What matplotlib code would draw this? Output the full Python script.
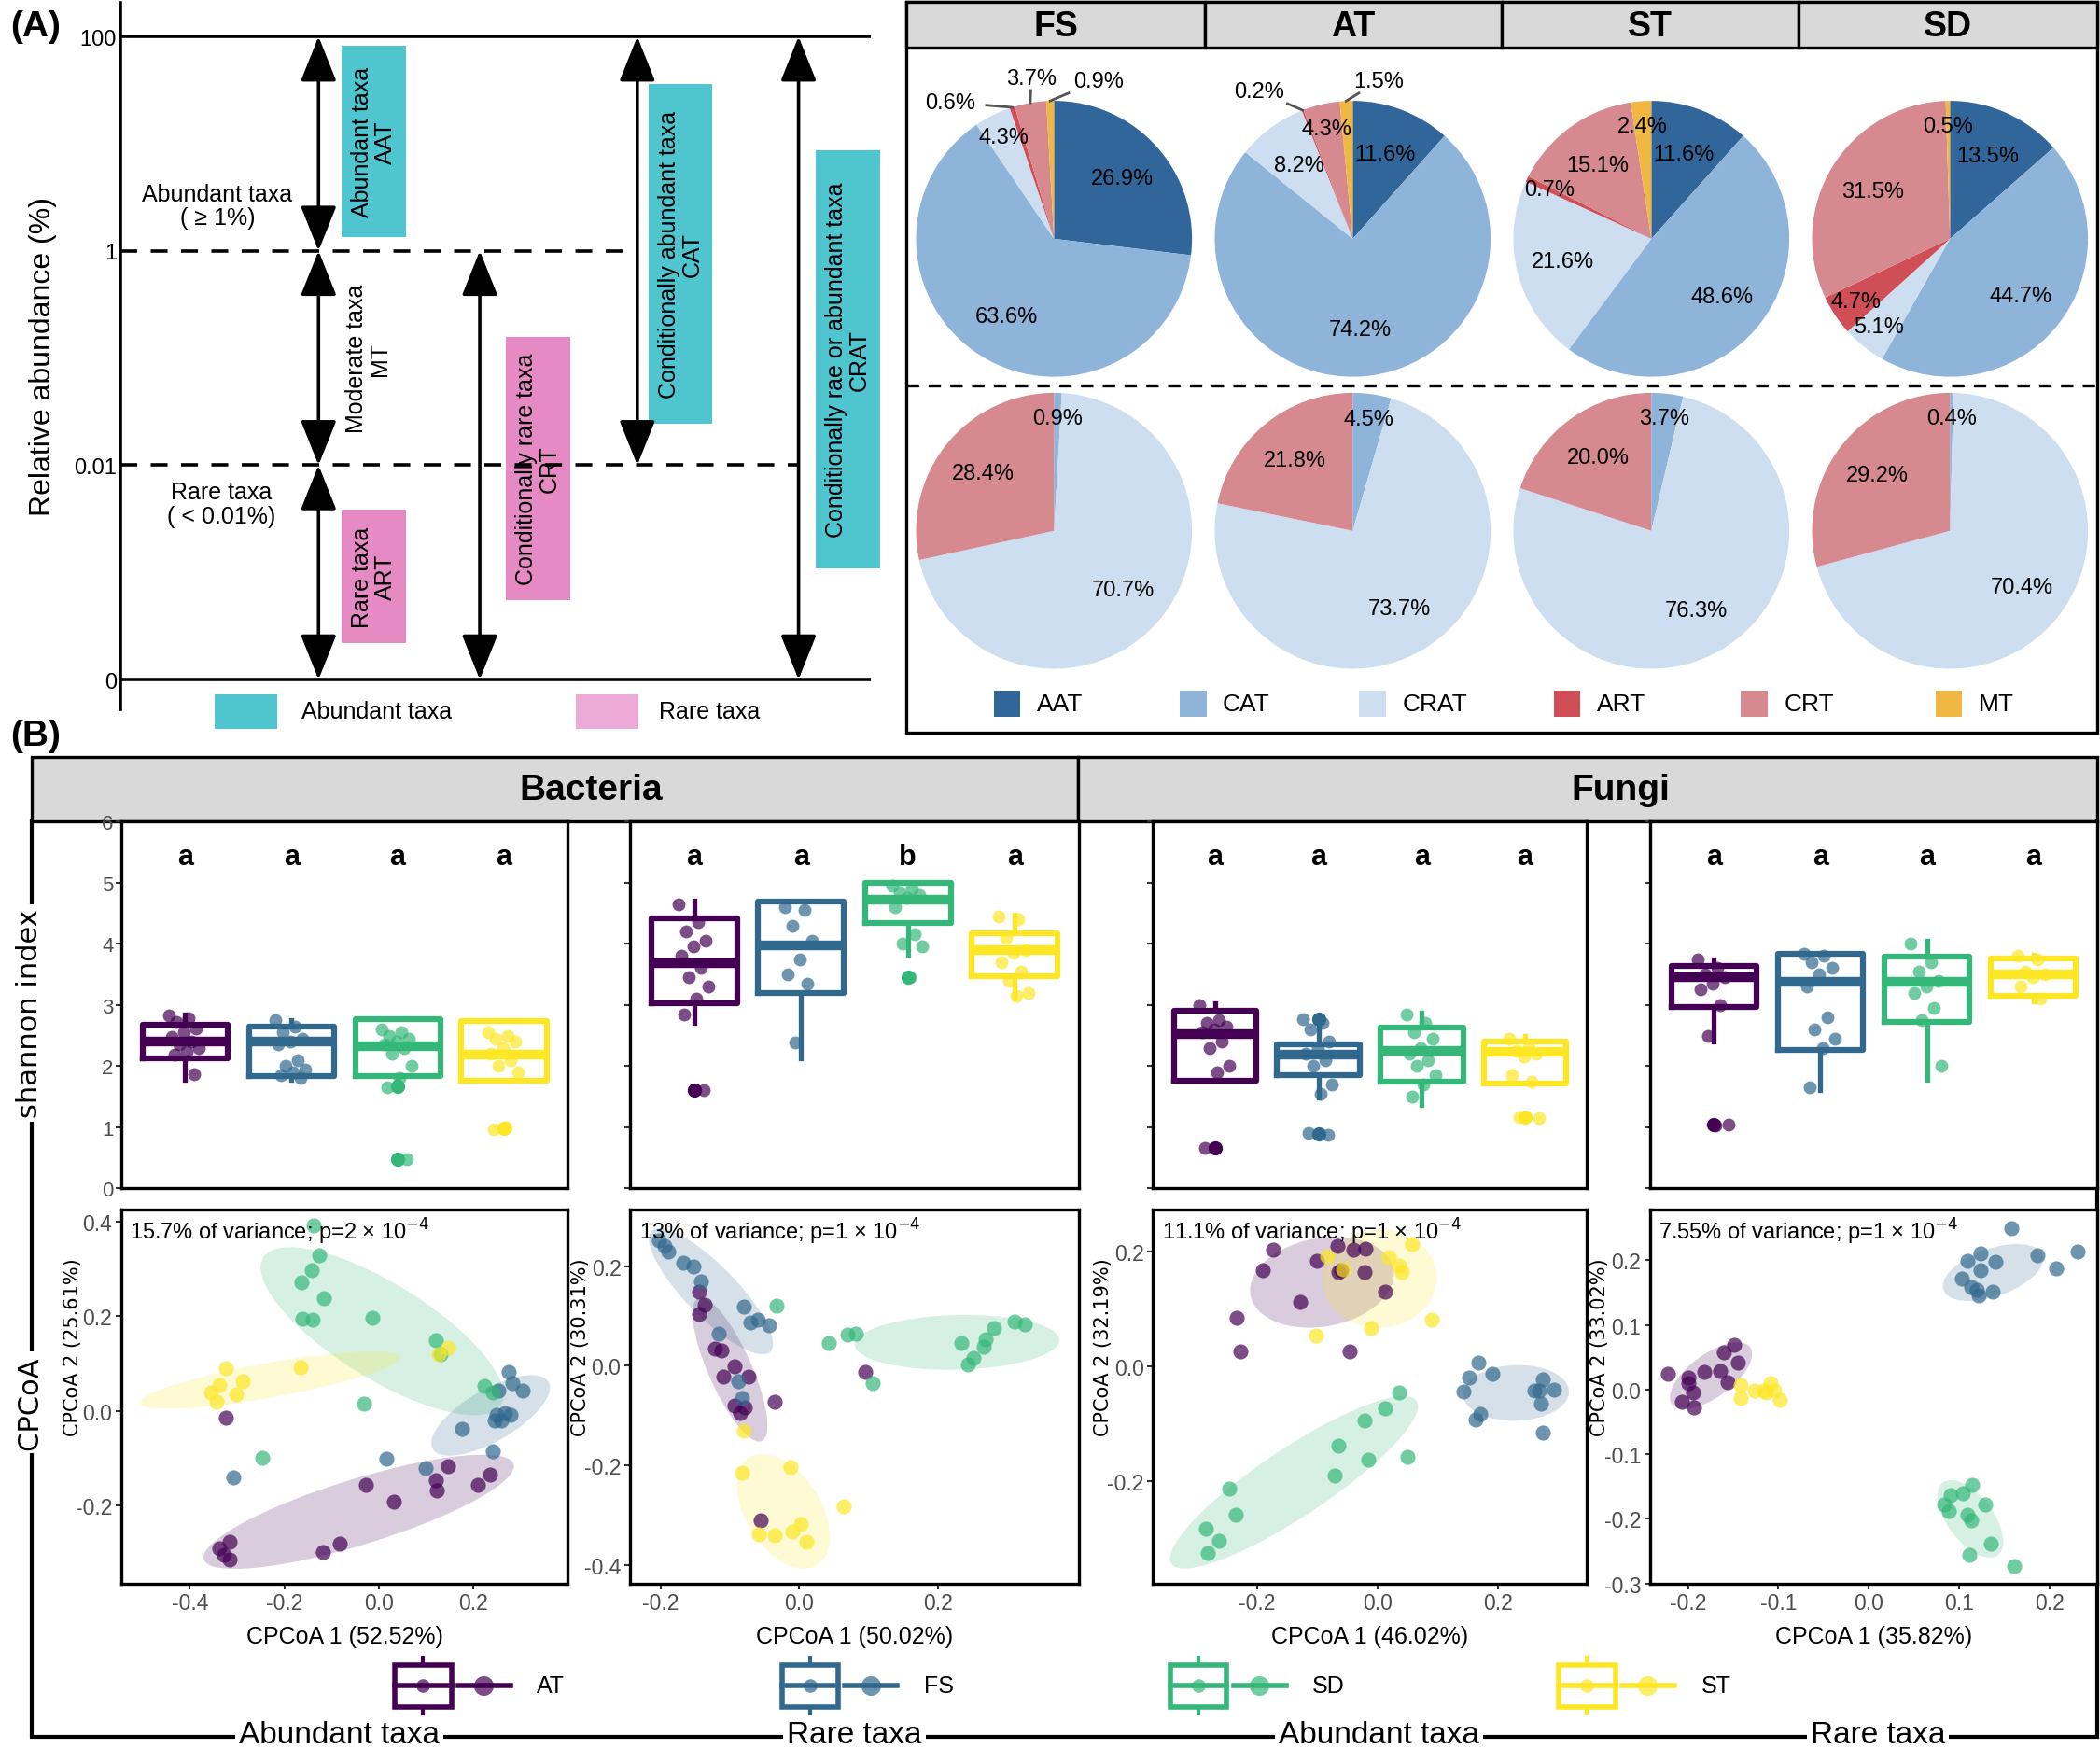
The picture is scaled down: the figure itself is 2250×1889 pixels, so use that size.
import numpy as np
import matplotlib
matplotlib.use('Agg')
import matplotlib.pyplot as plt
from matplotlib.patches import Rectangle, Ellipse
from matplotlib.ticker import FormatStrFormatter

matplotlib.rc('font', family='Liberation Sans', size=16)

# layout grid of the reference (the figure is saved at 2250 x 1890 px)
W, H = 1568.0, 1317.0

# ---------------------------------------------------------------- data (A)
level_labels = ['0', '0.01', '1', '100']
pie_sites = ['FS', 'AT', 'ST', 'SD']
top_classes = ['AAT', 'CAT', 'CRAT', 'ART', 'CRT', 'MT']
top_pct = {'FS': [26.9, 63.6, 4.3, 0.6, 3.7, 0.9],
           'AT': [11.6, 74.2, 8.2, 0.2, 4.3, 1.5],
           'ST': [11.6, 48.6, 21.6, 0.7, 15.1, 2.4],
           'SD': [13.5, 44.7, 5.1, 4.7, 31.5, 0.5]}
bottom_classes = ['CAT', 'CRAT', 'CRT']
bottom_pct = {'FS': [0.9, 70.7, 28.4],
              'AT': [4.5, 73.7, 21.8],
              'ST': [3.7, 76.3, 20.0],
              'SD': [0.4, 70.4, 29.2]}
class_colors = {'AAT': '#31669A', 'CAT': '#8FB4DA', 'CRAT': '#CCDEEF',
                'ART': '#D04E55', 'CRT': '#D68A8F', 'MT': '#F0B843'}

# ---------------------------------------------------------------- data (B)
groups = ['AT', 'FS', 'SD', 'ST']
group_colors = ['#440154', '#31688E', '#35B779', '#FDE725']

# shannon index: jittered samples, box stats (lo, q1, med, q3, hi), outliers
sh_bac_ab = {'AT': [2.83, 2.78, 2.72, 2.62, 2.55, 2.47, 2.40, 2.36, 2.30, 2.24, 2.18, 1.86],
             'FS': [2.75, 2.65, 2.55, 2.45, 2.40, 2.35, 2.10, 2.00, 1.95, 1.90, 1.85, 1.80],
             'SD': [2.60, 2.55, 2.50, 2.45, 2.40, 2.35, 2.30, 2.20, 2.00, 1.80, 1.65, 0.48],
             'ST': [2.55, 2.50, 2.45, 2.40, 2.30, 2.20, 2.10, 2.00, 1.90, 1.00, 0.97]}
bx_bac_ab = {'AT': (1.78, 2.13, 2.40, 2.67, 2.85), 'FS': (1.78, 1.84, 2.40, 2.65, 2.75),
             'SD': (1.80, 1.84, 2.32, 2.76, 2.76), 'ST': (1.76, 1.76, 2.18, 2.73, 2.73)}
out_bac_ab = {'AT': [], 'FS': [], 'SD': [1.67, 0.48], 'ST': [0.98]}

sh_bac_ra = {'AT': [4.65, 4.35, 4.20, 4.05, 3.95, 3.80, 3.60, 3.45, 3.30, 3.10, 2.85, 1.60],
             'FS': [4.60, 4.55, 4.30, 4.05, 3.75, 3.50, 3.35, 2.38],
             'SD': [4.95, 4.90, 4.85, 4.80, 4.75, 4.60, 4.15, 4.00, 3.95, 3.45],
             'ST': [4.45, 4.40, 4.10, 3.90, 3.85, 3.70, 3.55, 3.40, 3.20, 3.15]}
bx_bac_ra = {'AT': (2.71, 3.03, 3.69, 4.42, 4.71), 'FS': (2.13, 3.20, 3.98, 4.69, 4.69),
             'SD': (3.82, 4.34, 4.72, 5.00, 5.00), 'ST': (3.11, 3.47, 3.89, 4.17, 4.47)}
out_bac_ra = {'AT': [1.60], 'FS': [], 'SD': [3.45], 'ST': []}

sh_fun_ab = {'AT': [3.00, 2.75, 2.70, 2.65, 2.60, 2.55, 2.40, 2.30, 2.00, 1.90, 0.66],
             'FS': [2.77, 2.70, 2.60, 2.40, 2.30, 2.20, 2.10, 2.00, 1.70, 1.55, 0.90, 0.88],
             'SD': [2.85, 2.70, 2.55, 2.45, 2.30, 2.20, 2.10, 2.00, 1.85, 1.70, 1.50],
             'ST': [2.45, 2.30, 2.25, 2.20, 2.15, 1.85, 1.75, 1.17, 1.15]}
bx_fun_ab = {'AT': (1.76, 1.76, 2.52, 2.91, 3.03), 'FS': (1.48, 1.85, 2.18, 2.36, 2.72),
             'SD': (1.37, 1.74, 2.25, 2.63, 2.88), 'ST': (1.72, 1.72, 2.23, 2.40, 2.50)}
out_fun_ab = {'AT': [0.66], 'FS': [2.77, 0.89], 'SD': [], 'ST': [1.16]}

sh_fun_ra = {'AT': [3.75, 3.60, 3.50, 3.45, 3.35, 3.25, 3.00, 2.50, 1.05, 1.03],
             'FS': [3.83, 3.80, 3.70, 3.60, 3.50, 3.30, 2.80, 2.60, 2.45, 2.30, 1.65],
             'SD': [4.00, 3.70, 3.55, 3.40, 3.30, 3.20, 2.95, 2.75, 2.00],
             'ST': [3.80, 3.75, 3.55, 3.50, 3.45, 3.30, 3.10]}
bx_fun_ra = {'AT': (2.40, 2.97, 3.46, 3.63, 3.74), 'FS': (1.61, 2.26, 3.37, 3.83, 3.83),
             'SD': (1.77, 2.72, 3.37, 3.79, 4.05), 'ST': (3.06, 3.15, 3.50, 3.76, 3.82)}
out_fun_ra = {'AT': [1.04], 'FS': [], 'SD': [], 'ST': []}

letters = [['a', 'a', 'a', 'a'], ['a', 'a', 'b', 'a'], ['a', 'a', 'a', 'a'], ['a', 'a', 'a', 'a']]

# CPCoA scores
pc_bac_ab_x = {'AT': [-0.323, -0.028, 0.032, 0.121, 0.123, 0.147, 0.210, 0.235, -0.118, -0.083, -0.315, -0.337, -0.327, -0.315],
               'FS': [0.274, 0.283, 0.304, 0.253, 0.267, 0.250, 0.279, 0.245, 0.258, 0.177, 0.241, 0.016, 0.099, -0.308],
               'SD': [-0.137, -0.127, -0.142, -0.164, -0.117, -0.161, -0.140, -0.013, 0.120, 0.130, -0.032, -0.247, 0.223, 0.242],
               'ST': [-0.324, -0.166, -0.288, -0.337, -0.355, -0.301, -0.343, 0.147, 0.127]}
pc_bac_ab_y = {'AT': [-0.013, -0.155, -0.191, -0.146, -0.168, -0.117, -0.155, -0.134, -0.298, -0.280, -0.276, -0.290, -0.304, -0.314],
               'FS': [0.082, 0.059, 0.043, 0.043, -0.003, -0.007, -0.007, -0.019, -0.019, -0.038, -0.084, -0.101, -0.120, -0.140],
               'SD': [0.392, 0.329, 0.298, 0.271, 0.238, 0.196, 0.194, 0.198, 0.149, 0.120, 0.015, -0.099, 0.053, 0.039],
               'ST': [0.091, 0.093, 0.063, 0.055, 0.039, 0.036, 0.019, 0.134, 0.120]}
pc_bac_ra_x = {'AT': [-0.144, -0.137, -0.144, -0.122, -0.112, -0.093, -0.109, -0.073, -0.093, -0.078, -0.086, -0.036, 0.095, -0.056],
               'FS': [-0.202, -0.189, -0.167, -0.152, -0.142, -0.117, -0.080, -0.060, -0.070, -0.043, -0.088, -0.083, -0.195],
               'SD': [-0.033, 0.042, 0.070, 0.082, 0.106, 0.234, 0.243, 0.251, 0.266, 0.269, 0.281, 0.310, 0.325],
               'ST': [-0.080, -0.083, -0.013, 0.064, -0.058, -0.036, -0.010, 0.002, 0.010]}
pc_bac_ra_y = {'AT': [0.148, 0.122, 0.104, 0.034, 0.031, -0.002, -0.021, -0.021, -0.079, -0.083, -0.094, -0.072, -0.013, -0.311],
               'FS': [0.251, 0.229, 0.207, 0.199, 0.170, 0.064, 0.119, 0.093, 0.086, 0.082, -0.032, -0.064, 0.240],
               'SD': [0.120, 0.045, 0.062, 0.065, -0.035, 0.045, 0.003, 0.016, 0.038, 0.053, 0.076, 0.089, 0.084],
               'ST': [-0.130, -0.215, -0.204, -0.283, -0.339, -0.341, -0.332, -0.317, -0.354]}
pc_fun_ab_x = {'AT': [-0.174, -0.190, -0.101, -0.067, -0.040, -0.020, -0.065, -0.060, -0.022, 0.013, -0.129, -0.234, -0.228, -0.047],
               'FS': [0.168, 0.191, 0.152, 0.142, 0.274, 0.268, 0.261, 0.293, 0.272, 0.171, 0.163, 0.275],
               'SD': [0.036, 0.013, -0.022, -0.065, -0.016, 0.049, -0.071, -0.247, -0.236, -0.286, -0.264, -0.283],
               'ST': [0.057, -0.084, 0.018, 0.036, 0.041, -0.057, -0.011, -0.103, 0.090]}
pc_fun_ab_y = {'AT': [0.202, 0.167, 0.183, 0.210, 0.203, 0.205, 0.164, 0.167, 0.164, 0.130, 0.112, 0.084, 0.026, 0.025],
               'FS': [0.007, -0.014, -0.019, -0.044, -0.023, -0.043, -0.043, -0.041, -0.065, -0.083, -0.093, -0.116],
               'SD': [-0.046, -0.074, -0.095, -0.138, -0.163, -0.157, -0.190, -0.213, -0.258, -0.283, -0.303, -0.325],
               'ST': [0.213, 0.191, 0.189, 0.175, 0.164, 0.169, 0.067, 0.053, 0.081]}
pc_fun_ra_x = {'AT': [-0.149, -0.160, -0.145, -0.164, -0.182, -0.156, -0.222, -0.199, -0.200, -0.194, -0.207, -0.193],
               'FS': [0.158, 0.124, 0.109, 0.140, 0.187, 0.231, 0.207, 0.124, 0.103, 0.113, 0.120, 0.137, 0.122],
               'SD': [0.114, 0.091, 0.104, 0.084, 0.089, 0.109, 0.113, 0.129, 0.135, 0.111, 0.161],
               'ST': [-0.142, -0.142, -0.126, -0.116, -0.109, -0.104, -0.098, -0.114]}
pc_fun_ra_y = {'AT': [0.069, 0.058, 0.041, 0.029, 0.027, 0.012, 0.024, 0.018, 0.010, -0.005, -0.019, -0.027],
               'FS': [0.250, 0.210, 0.199, 0.197, 0.207, 0.214, 0.188, 0.185, 0.171, 0.159, 0.154, 0.151, 0.145],
               'SD': [-0.147, -0.163, -0.160, -0.178, -0.188, -0.194, -0.202, -0.178, -0.239, -0.256, -0.273],
               'ST': [0.007, -0.013, -0.001, -0.002, 0.010, -0.002, -0.016, -0.005]}

# confidence ellipses: (xmin, xmax, ymin, ymax, x of top point)
el_bac_ab = {'AT': (-0.371, 0.286, -0.333, -0.092, 0.220), 'FS': (0.111, 0.362, -0.094, 0.076, 0.323),
             'SD': (-0.250, 0.264, -0.0085, 0.346, -0.188), 'ST': (-0.505, 0.045, 0.005, 0.126, -0.013)}
el_bac_ra = {'AT': (-0.154, -0.046, -0.152, 0.137, -0.142), 'FS': (-0.217, -0.038, 0.023, 0.276, -0.202),
             'SD': (0.080, 0.375, -0.008, 0.102, 0.240), 'ST': (-0.090, 0.044, -0.407, -0.177, -0.053)}
el_fun_ab = {'AT': (-0.212, 0.027, 0.067, 0.225, -0.071), 'FS': (0.142, 0.318, -0.095, 0.002, 0.234),
             'SD': (-0.345, 0.067, -0.352, -0.052, 0.043), 'ST': (-0.092, 0.098, 0.067, 0.238, 0.005)}
el_fun_ra = {'AT': (-0.220, -0.129, -0.030, 0.073, -0.145), 'FS': (0.082, 0.193, 0.137, 0.225, 0.164),
             'SD': (0.076, 0.149, -0.260, -0.140, 0.091), 'ST': None}

pc_xlabels = ['CPCoA 1 (52.52%)', 'CPCoA 1 (50.02%)', 'CPCoA 1 (46.02%)', 'CPCoA 1 (35.82%)']
pc_ylabels = ['CPCoA 2 (25.61%)', 'CPCoA 2 (30.31%)', 'CPCoA 2 (32.19%)', 'CPCoA 2 (33.02%)']
pc_notes = ['15.7% of variance; p=2 × 10$^{-4}$', '13% of variance; p=1 × 10$^{-4}$',
            '11.1% of variance; p=1 × 10$^{-4}$', '7.55% of variance; p=1 × 10$^{-4}$']


def rect(x1, y1, x2, y2):
    return [x1 / W, 1 - y2 / H, (x2 - x1) / W, (y2 - y1) / H]


def ellipse_from_box(xmin, xmax, ymin, ymax, xtop):
    cx, cy = (xmin + xmax) / 2, (ymin + ymax) / 2
    X, Y = (xmax - xmin) / 2, (ymax - ymin) / 2
    K = 2 * (xtop - cx) * Y
    L = X ** 2 - Y ** 2
    S = X ** 2 + Y ** 2
    D = np.hypot(K, L)
    a = np.sqrt((S + D) / 2)
    b = np.sqrt(max((S - D) / 2, 0))
    return Ellipse((cx, cy), 2 * a, 2 * b, angle=0.5 * np.degrees(np.arctan2(K, L)))


fig = plt.figure(figsize=(22.5, 18.9), dpi=100)

# overlay in reference units for frames, strips and free text
ov = fig.add_axes([0, 0, 1, 1])
ov.set_xlim(0, W)
ov.set_ylim(H, 0)
ov.axis('off')
LW = 2.4

ov.text(8, 20, '(A)', fontsize=28, fontweight='bold', va='center')
ov.text(8, 550, '(B)', fontsize=28, fontweight='bold', va='center')

# ---------------------------------------------------------------- (A) left diagram
axA = fig.add_axes(rect(90, 3, 650, 530))
axA.set_xlim(0, 1)
axA.set_ylim(-0.1375, 3.156)
for s in ['top', 'right', 'bottom']:
    axA.spines[s].set_visible(False)
axA.spines['left'].set_linewidth(2.6)
axA.set_xticks([])
axA.set_yticks(range(4))
axA.set_yticklabels(level_labels, fontsize=17)
axA.tick_params(axis='y', length=0, pad=3)
axA.set_ylabel('Relative abundance (%)', fontsize=23)
axA.yaxis.set_label_coords(-0.085, 0.5)

axA.hlines([0, 3], 0, 1, color='black', lw=2.6)
axA.hlines(2, 0, 0.689, color='black', lw=2.6, linestyles=(0, (5, 4)))
axA.hlines(1, 0, 0.904, color='black', lw=2.6, linestyles=(0, (5, 4)))

arrows = [(0.264, 3, 2), (0.264, 2, 1), (0.264, 1, 0), (0.479, 2, 0), (0.689, 3, 1), (0.904, 3, 0)]
for x, y0, y1 in arrows:
    axA.annotate('', xy=(x, y1), xytext=(x, y0),
                 arrowprops=dict(arrowstyle='<|-|>,head_length=1.25,head_width=0.5', color='black',
                                 lw=2.6, shrinkA=0, shrinkB=0, mutation_scale=24))

cyan, pink = '#4FC5D0', '#E68AC4'
class_boxes = [('Abundant taxa\nAAT', 0.295, 0.380, 2.0625, 2.956, cyan),
               ('Rare taxa\nART', 0.295, 0.380, 0.169, 0.794, pink),
               ('Conditionally rare taxa\nCRT', 0.514, 0.600, 0.369, 1.600, pink),
               ('Conditionally abundant taxa\nCAT', 0.704, 0.789, 1.194, 2.780, cyan),
               ('Conditionally rae or abundant taxa\nCRAT', 0.927, 1.0125, 0.519, 2.469, cyan)]
for txt, x0, x1, y0, y1, c in class_boxes:
    axA.add_patch(Rectangle((x0, y0), x1 - x0, y1 - y0, facecolor=c, edgecolor='none', clip_on=False))
    axA.text((x0 + x1) / 2, (y0 + y1) / 2, txt, rotation=90, ha='center', va='center',
             fontsize=18, multialignment='center', linespacing=1.05)
axA.text(0.330, 1.5, 'Moderate taxa\nMT', rotation=90, ha='center', va='center', fontsize=18,
         multialignment='center', linespacing=1.05)
axA.text(0.129, 2.21, 'Abundant taxa\n( ≥ 1%)', ha='center', va='center', fontsize=18, linespacing=1.1)
axA.text(0.134, 0.82, 'Rare taxa\n( < 0.01%)', ha='center', va='center', fontsize=18, linespacing=1.1)

axA.add_patch(Rectangle((0.125, -0.231), 0.084, 0.162, facecolor=cyan, edgecolor='none', clip_on=False))
axA.text(0.241, -0.15, 'Abundant taxa', va='center', fontsize=18)
axA.add_patch(Rectangle((0.607, -0.231), 0.084, 0.162, facecolor='#EEAAD6', edgecolor='none', clip_on=False))
axA.text(0.718, -0.15, 'Rare taxa', va='center', fontsize=18)

# ---------------------------------------------------------------- (A) right pies
ov.add_patch(Rectangle((677, 2), 889, 546, facecolor='none', edgecolor='black', lw=LW))
strip_x = [677, 900, 1121, 1343, 1566]
for i, site in enumerate(pie_sites):
    ov.add_patch(Rectangle((strip_x[i], 2), strip_x[i + 1] - strip_x[i], 34, facecolor='#D9D9D9',
                           edgecolor='black', lw=LW))
    ov.text((strip_x[i] + strip_x[i + 1]) / 2, 20, site, ha='center', va='center', fontsize=27,
            fontweight='bold')
ov.plot([677, 1566], [288.5, 288.5], color='black', lw=LW, ls=(0, (4, 3)))

# small top-row slices labelled outside the pie (label centre in pie radii)
outside = {('FS', 'ART'): (-0.75, 0.99), ('FS', 'CRT'): (-0.165, 1.165), ('FS', 'MT'): (0.32, 1.146),
           ('AT', 'ART'): (-0.68, 1.07), ('AT', 'MT'): (0.19, 1.146)}
pie_cx = [787, 1010, 1233, 1456]
R = 103


def draw_pie(cx, cy, site, classes, values, labels_out):
    ax = fig.add_axes(rect(cx - R, cy - R, cx + R, cy + R))
    wedges, _ = ax.pie(values, colors=[class_colors[c] for c in classes], startangle=90,
                       counterclock=False, radius=1, wedgeprops=dict(linewidth=0))
    ax.set_xlim(-1, 1)
    ax.set_ylim(-1, 1)
    for w, c, v in zip(wedges, classes, values):
        m = np.radians((w.theta1 + w.theta2) / 2)
        ex, ey = np.cos(m), np.sin(m)
        lab = '%.1f%%' % v
        if (site, c) in labels_out:
            lx, ly = labels_out[(site, c)]
            vx, vy = ex - lx, ey - ly
            s = min(0.26 / abs(vx) if vx else 9, 0.09 / abs(vy) if vy else 9)
            ax.plot([lx + vx * s, ex], [ly + vy * s, ey], color='#555555', lw=2, clip_on=False)
            ax.text(lx, ly, lab, ha='center', va='center', fontsize=17)
        else:
            r = 0.82 if v < 6 else 0.66
            ax.text(r * ex, r * ey, lab, ha='center', va='center', fontsize=17)


for i, site in enumerate(pie_sites):
    draw_pie(pie_cx[i], 179, site, top_classes, top_pct[site], outside)
    draw_pie(pie_cx[i], 397, site, bottom_classes, bottom_pct[site], {})

pie_leg_x = [742, 881, 1015, 1160, 1300, 1445]
for x, c in zip(pie_leg_x, top_classes):
    ov.add_patch(Rectangle((x, 516), 20, 20, facecolor=class_colors[c], edgecolor='none'))
    ov.text(x + 32, 526, c, va='center', fontsize=19)

# ---------------------------------------------------------------- (B) frame
ov.add_patch(Rectangle((24, 566), 781, 48, facecolor='#D9D9D9', edgecolor='black', lw=LW))
ov.add_patch(Rectangle((805, 566), 761, 48, facecolor='#D9D9D9', edgecolor='black', lw=LW))
ov.text(441, 590, 'Bacteria', ha='center', va='center', fontsize=28, fontweight='bold')
ov.text(1210, 590, 'Fungi', ha='center', va='center', fontsize=28, fontweight='bold')
ov.plot([24, 24, 1566, 1566], [614, 1297.5, 1297.5, 614], color='black', lw=LW + 0.6,
        solid_joinstyle='miter')
white = dict(facecolor='white', edgecolor='none', pad=3)
ov.text(22, 757, 'shannon index', rotation=90, ha='center', va='center', fontsize=22,
        family='DejaVu Sans', bbox=white)
ov.text(22, 1048, 'CPCoA', rotation=90, ha='center', va='center', fontsize=22,
        family='DejaVu Sans', bbox=white)
for x, t in zip([253, 638, 1030, 1402], ['Abundant taxa', 'Rare taxa', 'Abundant taxa', 'Rare taxa']):
    ov.text(x, 1296, t, ha='center', va='center', fontsize=24, bbox=white)

panel_x = [(90.5, 424), (470.5, 805.5), (861, 1185), (1232, 1566)]
shannon = [sh_bac_ab, sh_bac_ra, sh_fun_ab, sh_fun_ra]
boxstats = [bx_bac_ab, bx_bac_ra, bx_fun_ab, bx_fun_ra]
outliers = [out_bac_ab, out_bac_ra, out_fun_ab, out_fun_ra]
pcx = [pc_bac_ab_x, pc_bac_ra_x, pc_fun_ab_x, pc_fun_ra_x]
pcy = [pc_bac_ab_y, pc_bac_ra_y, pc_fun_ab_y, pc_fun_ra_y]
ells = [el_bac_ab, el_bac_ra, el_fun_ab, el_fun_ra]
pc_xlim = [(-0.545, 0.40), (-0.244, 0.403), (-0.373, 0.348), (-0.242, 0.253)]
pc_ylim = [(-0.364, 0.425), (-0.437, 0.313), (-0.378, 0.272), (-0.300, 0.278)]
pc_xticks = [[-0.4, -0.2, 0, 0.2], [-0.2, 0, 0.2], [-0.2, 0, 0.2], [-0.2, -0.1, 0, 0.1, 0.2]]
pc_yticks = [[-0.2, 0, 0.2, 0.4], [-0.4, -0.2, 0, 0.2], [-0.2, 0, 0.2], [-0.3, -0.2, -0.1, 0, 0.1, 0.2]]
ylab_pos = [61, 440.5, 831, 1201.5]

for k, (x1, x2) in enumerate(panel_x):
    # shannon boxplots
    ax = fig.add_axes(rect(x1, 614, x2, 888))
    ax.set_xlim(0.4, 4.6)
    ax.set_ylim(0, 6)
    for i, g in enumerate(groups):
        c = group_colors[i]
        lo, q1, med, q3, hi = boxstats[k][g]
        ax.bxp([dict(whislo=lo, q1=q1, med=med, q3=q3, whishi=hi, fliers=outliers[k][g])],
               positions=[i + 1], widths=0.8, showcaps=False, manage_ticks=False,
               boxprops=dict(color=c, lw=4.5), whiskerprops=dict(color=c, lw=3.8),
               medianprops=dict(color=c, lw=7.5, solid_capstyle='butt'),
               flierprops=dict(marker='o', markerfacecolor=c, markeredgecolor='none', markersize=11))
        y = np.array(shannon[k][g])
        off = ((np.arange(len(y)) * 0.618034) % 1 - 0.5) * 0.3
        ax.scatter(i + 1 + off, y, s=100, color=c, alpha=0.7, lw=0, zorder=3)
        ax.text(i + 1, 5.42, letters[k][i], ha='center', va='center', fontsize=22, fontweight='bold')
    ax.set_xticks([])
    ax.set_yticks(range(7))
    ax.tick_params(axis='y', length=4, width=1.5, color='#333333', labelcolor='#4D4D4D',
                   labelsize=16, pad=2, labelleft=(k == 0))
    for s in ax.spines.values():
        s.set_linewidth(LW)

    # CPCoA
    ax = fig.add_axes(rect(x1, 904, x2, 1183))
    for i, g in enumerate(groups):
        if ells[k][g] is not None:
            e = ellipse_from_box(*ells[k][g])
            e.set_facecolor(group_colors[i])
            e.set_alpha(0.2)
            e.set_edgecolor('none')
            ax.add_patch(e)
    for i, g in enumerate(groups):
        ax.scatter(pcx[k][g], pcy[k][g], s=135, color=group_colors[i], alpha=0.7, lw=0, zorder=3)
    ax.set_xlim(*pc_xlim[k])
    ax.set_ylim(*pc_ylim[k])
    ax.set_xticks(pc_xticks[k])
    ax.set_yticks(pc_yticks[k])
    ax.xaxis.set_major_formatter(FormatStrFormatter('%.1f'))
    ax.yaxis.set_major_formatter(FormatStrFormatter('%.1f'))
    ax.tick_params(length=4, width=1.5, color='#333333', labelcolor='#4D4D4D', labelsize=16.5, pad=3)
    for s in ax.spines.values():
        s.set_linewidth(LW)
    ax.set_xlabel(pc_xlabels[k], fontsize=18)
    ax.xaxis.set_label_coords(0.5, -0.11)
    ax.set_ylabel(pc_ylabels[k], fontsize=15, family='DejaVu Sans')
    ax.yaxis.set_label_coords((ylab_pos[k] - x1) / (x2 - x1), 0.634)
    ax.text(0.02, 0.985, pc_notes[k], transform=ax.transAxes, ha='left', va='top', fontsize=17)

# ---------------------------------------------------------------- (B) legend
leg_x = [295, 584, 874, 1164]
for i, g in enumerate(groups):
    c, x0 = group_colors[i], leg_x[i]
    ov.plot([x0 + 21, x0 + 21], [1238, 1280], color=c, lw=3, zorder=1)
    ov.add_patch(Rectangle((x0, 1244), 42, 31, facecolor='white', edgecolor=c, lw=4, zorder=2))
    ov.plot([x0, x0 + 42], [1259, 1259], color=c, lw=4, zorder=3)
    ov.scatter([x0 + 21], [1259], s=110, color=c, alpha=0.7, lw=0, zorder=4)
    ov.plot([x0 + 47, x0 + 86], [1259, 1259], color=c, lw=4, zorder=3)
    ov.scatter([x0 + 66], [1259], s=230, color=c, alpha=0.7, lw=0, zorder=4)
    ov.text(x0 + 106, 1259, g, va='center', fontsize=18)

fig.savefig('out.png', dpi=100)
